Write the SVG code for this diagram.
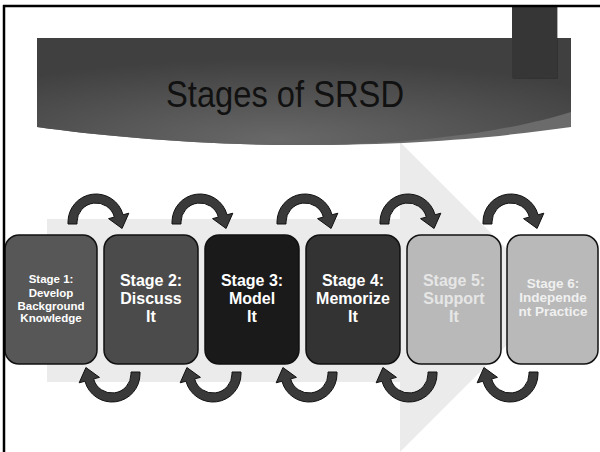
<svg xmlns="http://www.w3.org/2000/svg" xmlns:xlink="http://www.w3.org/1999/xlink" width="600" height="452" viewBox="0 0 600 452">
<style>
.box{stroke:#111;stroke-width:1.5}
.t{font-family:"Liberation Sans",Arial,sans-serif;font-weight:bold;text-anchor:middle;fill:#ffffff}
.big{font-size:16px}
.sm{font-size:11.5px}
.md{font-size:13.5px}
.arr{fill:#3a3a3a;stroke:#111;stroke-width:1}
</style>
<defs>
<radialGradient id="bg" cx="0.45" cy="0.95" r="0.75">
<stop offset="0" stop-color="#686868"/>
<stop offset="1" stop-color="#404040"/>
</radialGradient>
<path id="arrTop" d="M -28,2 L -28,0 A 28 28 0 0 1 27.05,-7.25 L 32.84,-8.8 L 26.07,6.48 L 12.56,-3.36 L 18.35,-4.92 A 19 19 0 0 0 -19,0 L -19,2 Z"/>
</defs>
<rect width="600" height="452" fill="#ffffff"/>
<g id="bigArrow">
<rect x="47" y="219" width="354" height="163" fill="#ebebeb"/>
<polygon points="400,142 555,297 400,452" fill="#ebebeb"/>
</g>
<g id="banner">
<path d="M37,38 H571 V127 C500,137 420,145 300,145 C200,145 100,136 37,127 Z" fill="#6b6b6b"/>
<path d="M37,38 H571 V112 C520,128 430,145 300,145 C200,145 100,136 37,127 Z" fill="url(#bg)"/>
<rect x="513" y="7" width="45" height="72" fill="#1a1a1a" opacity="0.35"/>
<rect x="512" y="6" width="45" height="72" fill="#363636"/>
<text x="285" y="107" font-family="Century Gothic,'Liberation Sans',sans-serif" font-size="36" fill="#111" text-anchor="middle" textLength="238" lengthAdjust="spacingAndGlyphs">Stages of SRSD</text>
</g>
<g id="connectors">
<use xlink:href="#arrTop" class="arr" transform="translate(96,222)"/>
<use xlink:href="#arrTop" class="arr" transform="translate(200,222)"/>
<use xlink:href="#arrTop" class="arr" transform="translate(305,222)"/>
<use xlink:href="#arrTop" class="arr" transform="translate(408,222)"/>
<use xlink:href="#arrTop" class="arr" transform="translate(511,222)"/>
<use xlink:href="#arrTop" class="arr" transform="translate(112,374) rotate(180)"/>
<use xlink:href="#arrTop" class="arr" transform="translate(213,374) rotate(180)"/>
<use xlink:href="#arrTop" class="arr" transform="translate(309,374) rotate(180)"/>
<use xlink:href="#arrTop" class="arr" transform="translate(409,374) rotate(180)"/>
<use xlink:href="#arrTop" class="arr" transform="translate(510,374) rotate(180)"/>
</g>
<g id="stage1">
<rect class="box" x="5" y="235" width="92" height="129" rx="14" fill="#575757"/>
<text class="t sm" x="51" y="283">Stage 1:</text>
<text class="t sm" x="51" y="297">Develop</text>
<text class="t sm" x="51" y="310">Background</text>
<text class="t sm" x="51" y="322">Knowledge</text>
</g>
<g id="stage2">
<rect class="box" x="104" y="235" width="94" height="129" rx="14" fill="#4b4b4b"/>
<text class="t big" x="151" y="286">Stage 2:</text>
<text class="t big" x="151" y="304">Discuss</text>
<text class="t big" x="151" y="322">It</text>
</g>
<g id="stage3">
<rect class="box" x="205" y="235" width="94" height="129" rx="14" fill="#1a1a1a"/>
<text class="t big" x="252" y="286">Stage 3:</text>
<text class="t big" x="252" y="304">Model</text>
<text class="t big" x="252" y="322">It</text>
</g>
<g id="stage4">
<rect class="box" x="306" y="235" width="94" height="129" rx="14" fill="#333333"/>
<text class="t big" x="353" y="286">Stage 4:</text>
<text class="t big" x="353" y="304">Memorize</text>
<text class="t big" x="353" y="322">It</text>
</g>
<g id="stage5">
<rect class="box" x="407" y="235" width="94" height="129" rx="14" fill="#b9b9b9"/>
<text class="t big" x="454" y="286" fill="#e6e6e6" style="fill:#e6e6e6">Stage 5:</text>
<text class="t big" x="454" y="304" style="fill:#e6e6e6">Support</text>
<text class="t big" x="454" y="322" style="fill:#e6e6e6">It</text>
</g>
<g id="stage6">
<rect class="box" x="507" y="235" width="91" height="129" rx="14" fill="#b9b9b9"/>
<text class="t md" x="553" y="288" style="fill:#f0f0f0">Stage 6:</text>
<text class="t md" x="553" y="302" style="fill:#f0f0f0">Independe</text>
<text class="t md" x="553" y="316" style="fill:#f0f0f0">nt Practice</text>
</g>
<g id="frame">
<line x1="3" y1="6" x2="600" y2="6" stroke="#000" stroke-width="2.5"/>
<line x1="4" y1="5" x2="4" y2="452" stroke="#000" stroke-width="2.5"/>
</g>
</svg>
